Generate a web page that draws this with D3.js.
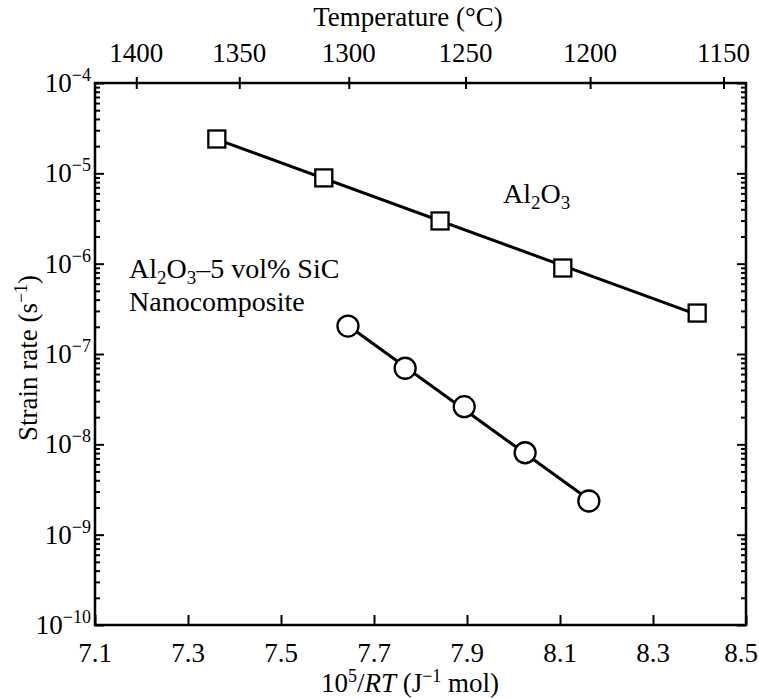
<!DOCTYPE html>
<html>
<head>
<meta charset="utf-8">
<script src="https://cdn.jsdelivr.net/npm/d3@7"></script>
<style>
  body { margin: 0; background: #fff; }
</style>
</head>
<body>
<svg width="759" height="699" font-family="'Liberation Serif', Tinos, 'Times New Roman', 'DejaVu Serif', serif"></svg>
<script>
"use strict";
// Inverse temperature 10^5/RT and strain rate (s^-1).
const al2o3X = [7.362, 7.592, 7.842, 8.106, 8.395];
const al2o3Rate = [2.4e-5, 8.9e-6, 2.97e-6, 8.95e-7, 2.84e-7];
const nanoX = [7.644, 7.767, 7.894, 8.025, 8.162];
const nanoRate = [2.04e-7, 6.95e-8, 2.61e-8, 8.07e-9, 2.36e-9];

const xTicks = [7.1, 7.3, 7.5, 7.7, 7.9, 8.1, 8.3, 8.5];
const tempTicks = [1400, 1350, 1300, 1250, 1200, 1150];   // °C, top axis
const yExponents = [-4, -5, -6, -7, -8, -9, -10];

const R = 8.314;
const invRT = t => 1e5 / (R * (t + 273.15));

window.addEventListener("load", draw);

function draw() {
    const svg = d3.select("svg");
    const left = 95, right = 746, top = 83, bottom = 625;
    const fs = 27, sup = 18;

    const x = d3.scaleLinear().domain([7.1, 8.5]).range([left, right]);
    const y = d3.scaleLog().domain([1e-10, 1e-4]).range([bottom, top]);

    // minor / major log ticks
    const majors = yExponents.map(e => Math.pow(10, e));
    const minors = [];
    yExponents.slice(1).forEach(e => {
        for (let m = 2; m <= 9; m++) minors.push(m * Math.pow(10, e));
    });

    function yAxis(gen, size, vals) {
        return gen(y).tickValues(vals).tickSize(size).tickFormat("");
    }
    const axes = svg.append("g").attr("class", "axes");
    axes.append("g").attr("transform", `translate(${left},0)`).call(yAxis(d3.axisLeft, -5, minors));
    axes.append("g").attr("transform", `translate(${left},0)`).call(yAxis(d3.axisLeft, -9, majors));
    axes.append("g").attr("transform", `translate(${right},0)`).call(yAxis(d3.axisRight, -5, minors));
    axes.append("g").attr("transform", `translate(${right},0)`).call(yAxis(d3.axisRight, -9, majors));

    // bottom axis, ticks pointing in
    axes.append("g").attr("transform", `translate(0,${bottom})`)
        .call(d3.axisBottom(x).tickValues(xTicks).tickSize(-10).tickFormat(""));

    // top axis (temperature), ticks crossing the line
    const topAx = axes.append("g").attr("transform", `translate(0,${top})`);
    topAx.call(d3.axisTop(x).tickValues(tempTicks.map(invRT)).tickSize(6).tickFormat(""));
    topAx.selectAll(".tick line").attr("y1", 6);

    axes.selectAll("path.domain").remove();
    axes.selectAll("line").attr("stroke", "#000").attr("stroke-width", 2);

    svg.append("rect")
        .attr("x", left).attr("y", top)
        .attr("width", right - left).attr("height", bottom - top)
        .attr("fill", "none").attr("stroke", "#000").attr("stroke-width", 2.5);

    // tick labels (last one kept inside the page)
    svg.append("g").selectAll("text").data(xTicks).join("text")
        .attr("x", (d, i) => i === xTicks.length - 1 ? 758 : x(d)).attr("y", bottom + 37)
        .attr("text-anchor", (d, i) => i === xTicks.length - 1 ? "end" : "middle")
        .attr("font-size", fs)
        .text(d => d.toFixed(1));

    svg.append("g").selectAll("text").data(tempTicks).join("text")
        .attr("x", d => x(invRT(d))).attr("y", top - 21)
        .attr("text-anchor", "middle").attr("font-size", fs)
        .text(d => d);

    const yl = svg.append("g").selectAll("text").data(yExponents).join("text")
        .attr("x", left - 4).attr("y", d => y(Math.pow(10, d)) + 9)
        .attr("text-anchor", "end").attr("font-size", fs);
    yl.append("tspan").text("10");
    yl.append("tspan").attr("dy", -11).attr("font-size", sup).text(d => "\u2212" + (-d));

    // axis titles
    svg.append("text").attr("x", 408).attr("y", 26)
        .attr("text-anchor", "middle").attr("font-size", fs)
        .text("Temperature (°C)");

    const xt = svg.append("text").attr("x", 410).attr("y", 692)
        .attr("text-anchor", "middle").attr("font-size", fs);
    xt.append("tspan").text("10");
    xt.append("tspan").attr("dy", -10).attr("font-size", sup).text("5");
    xt.append("tspan").attr("dy", 10).text("/");
    xt.append("tspan").attr("font-style", "italic").text("RT");
    xt.append("tspan").text(" (J");
    xt.append("tspan").attr("dy", -10).attr("font-size", sup).text("\u22121");
    xt.append("tspan").attr("dy", 10).text(" mol)");

    const yt = svg.append("text")
        .attr("transform", `translate(37,358) rotate(-90)`)
        .attr("text-anchor", "middle").attr("font-size", fs);
    yt.append("tspan").text("Strain rate (s");
    yt.append("tspan").attr("dy", -10).attr("font-size", sup).text("\u22121");
    yt.append("tspan").attr("dy", 10).text(")");

    // fitted lines (least squares in log space) drawn across each data range
    function fitLine(xs, rates) {
        const ly = rates.map(Math.log10);
        const mx = d3.mean(xs), my = d3.mean(ly);
        const slope = d3.sum(xs, (v, i) => (v - mx) * (ly[i] - my)) / d3.sum(xs, v => (v - mx) ** 2);
        const ends = d3.extent(xs);
        return ends.map(v => [v, Math.pow(10, my + slope * (v - mx))]);
    }
    const line = d3.line().x(d => x(d[0])).y(d => y(d[1]));
    [[al2o3X, al2o3Rate], [nanoX, nanoRate]].forEach(([xs, rs]) => {
        svg.append("path").attr("d", line(fitLine(xs, rs)))
            .attr("fill", "none").attr("stroke", "#000").attr("stroke-width", 3);
    });

    // markers
    const sq = 17;
    svg.append("g").selectAll("rect").data(al2o3X).join("rect")
        .attr("x", (d, i) => x(d) - sq / 2).attr("y", (d, i) => y(al2o3Rate[i]) - sq / 2)
        .attr("width", sq).attr("height", sq)
        .attr("fill", "#fff").attr("stroke", "#000").attr("stroke-width", 2.3);

    svg.append("g").selectAll("circle").data(nanoX).join("circle")
        .attr("cx", d => x(d)).attr("cy", (d, i) => y(nanoRate[i]))
        .attr("r", 10.5)
        .attr("fill", "#fff").attr("stroke", "#000").attr("stroke-width", 2.3);

    // series labels
    const lfs = 28;
    function formula(sel) {
        sel.append("tspan").text("Al");
        sel.append("tspan").attr("dy", 6).attr("font-size", 19).text("2");
        sel.append("tspan").attr("dy", -6).text("O");
        sel.append("tspan").attr("dy", 6).attr("font-size", 19).text("3");
    }
    const a = svg.append("text").attr("x", 503).attr("y", 203).attr("font-size", lfs);
    formula(a);

    const n = svg.append("text").attr("x", 129).attr("y", 278).attr("font-size", lfs);
    formula(n);
    n.append("tspan").attr("dy", -6).text("\u20135 vol% SiC");
    svg.append("text").attr("x", 129).attr("y", 311).attr("font-size", lfs).text("Nanocomposite");
}
</script>
</body>
</html>
